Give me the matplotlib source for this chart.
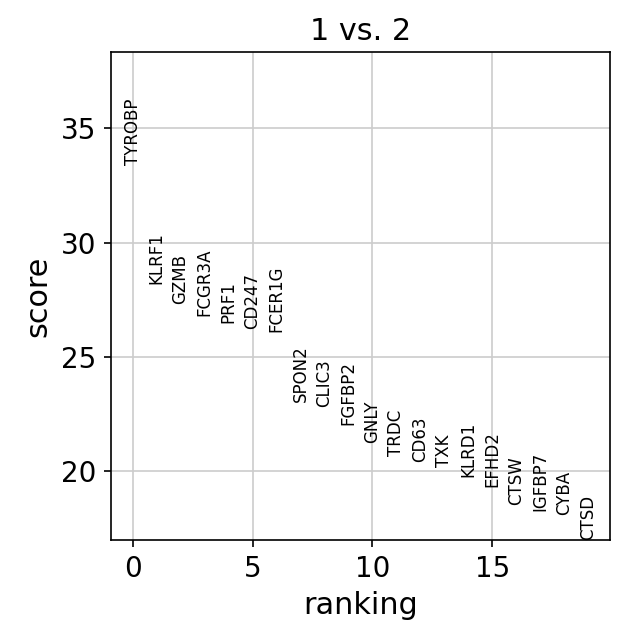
import matplotlib
matplotlib.use("Agg")
import matplotlib.pyplot as plt
from matplotlib.ticker import MultipleLocator

genes = ["TYROBP", "KLRF1", "GZMB", "FCGR3A", "PRF1", "CD247", "FCER1G",
         "SPON2", "CLIC3", "FGFBP2", "GNLY", "TRDC", "CD63", "TXK",
         "KLRD1", "EFHD2", "CTSW", "IGFBP7", "CYBA", "CTSD"]
scores = [33.42, 28.20, 27.32, 26.80, 26.49, 26.23, 26.10,
          23.03, 22.81, 22.02, 21.23, 20.66, 20.39, 20.18,
          19.74, 19.30, 18.51, 18.25, 18.11, 17.00]
title = "1 vs. 2"

plt.rcParams["axes.grid"] = True
plt.rcParams["grid.color"] = ".8"
plt.rcParams["axes.linewidth"] = 0.8
plt.rcParams["font.size"] = 14

fig = plt.figure(figsize=(626 / 150, 642 / 150), dpi=150)
ax = fig.add_axes([111 / 626, 1 - 540 / 642, 499 / 626, 488 / 642])

for ig, (g, s) in enumerate(zip(genes, scores)):
    ax.text(ig, s, g, rotation="vertical", va="bottom", ha="center", fontsize=8)

ymin = min(scores)
ymax = max(scores)
ymax += 0.3 * (ymax - ymin)
ax.set_ylim(ymin, ymax)
ax.set_xlim(-0.9, len(genes) - 0.1)
ax.yaxis.set_major_locator(MultipleLocator(5))
ax.tick_params(labelsize=13.3)
ax.set_title(title, fontsize=14.5)
ax.set_xlabel("ranking", fontsize=14.5)
ax.set_ylabel("score", fontsize=14.5)
ax.set_axisbelow(True)

fig.savefig("out.png", dpi=150)
